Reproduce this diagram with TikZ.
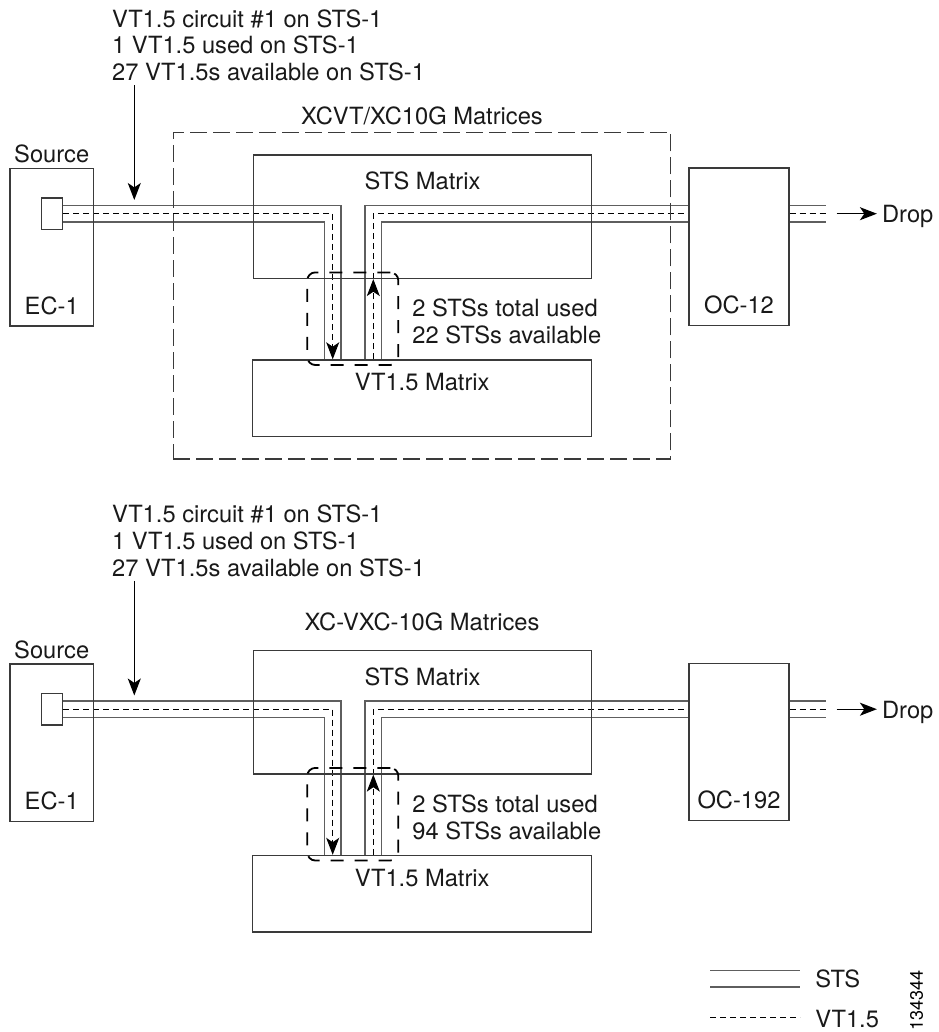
\documentclass[tikz,border=0pt]{standalone}
\usepackage{fontspec}
\setmainfont{TeX Gyre Heros}
\usetikzlibrary{positioning,arrows.meta,calc}
\pgfdeclarelayer{bg}
\pgfsetlayers{bg,main}
\definecolor{ln}{HTML}{3A3A3A}
\definecolor{ch}{HTML}{5E5E5E}
\tikzset{
  txt/.style={font=\fontsize{11.85}{13.35}\selectfont,inner sep=0pt,text=black!90},
  blk/.style={draw=ln,line width=0.7pt,inner sep=0pt},
  matbox/.style={draw=ln,line width=0.6pt,dash pattern=on 8.5pt off 3pt,inner sep=0pt},
  grp/.style={draw=black,line width=0.9pt,rounded corners=4pt,dash pattern=on 6.5pt off 5.5pt,inner sep=0pt,minimum width=45.5pt,minimum height=46.3pt},
  sts/.style={draw=ch,line width=0.75pt,double=white,double distance=7.45pt},
  vtl/.style={black,line width=0.5pt,dash pattern=on 3pt off 2pt},
  vtarr/.style={-{Stealth[length=8.5pt,width=6.5pt,inset=2.2pt]}},
  arr/.style={-{Stealth[length=8.5pt,width=6.5pt,inset=2.2pt]},line width=0.7pt,black},
}

\begin{document}
\begin{tikzpicture}[x=0.5pt,y=-0.5pt]
\useasboundingbox (0,0) rectangle (938,1032);
% the matrix group of the upper card
\node[matbox,minimum width=248.7pt,minimum height=163.3pt] (mtx1) at (422,295.7) {};
\node[txt,anchor=base] (ttl1) at ([yshift=3.5pt]mtx1.north) {XCVT/XC10G Matrices};
\node[txt,anchor=base] (ttl2) at (422,630.2) {XC-VXC-10G Matrices};
\foreach \i/\dy/\oc/\avail in {1/0/OC-12/22,2/495.5/OC-192/94}{
  \node[blk,minimum width=41.7pt,minimum height=78.8pt] (ec\i) at (51.7,{247.2+\dy}) {};
  \node[blk,minimum width=10.3pt,minimum height=15.8pt] (port\i) at (52,{213.7+\dy}) {};
  \node[blk,minimum width=169.2pt,minimum height=61.7pt] (sts\i) at (422.5,{216.7+\dy}) {};
  \node[blk,minimum width=169.5pt,minimum height=38.3pt] (vt\i) at (422.2,{398.3+\dy}) {};
  \node[blk,minimum width=50pt,minimum height=78.5pt] (oc\i) at (739,{246.7+\dy}) {};
  \node[grp] (grp\i) at (352.8,{318.7+\dy}) {};
  \node[txt,anchor=base] at ([yshift=2.4pt]ec\i.north) {Source};
  \node[txt,anchor=base] at ([yshift=6.3pt]ec\i.south) {EC-1};
  \node[txt,anchor=base] at ([yshift=-17.6pt]sts\i.north) {STS Matrix};
  \node[txt,anchor=base] at ([yshift=-15.75pt]vt\i.north) {VT1.5 Matrix};
  \node[txt,anchor=base] at ([yshift=6.3pt]oc\i.south) {\oc};
  \node[txt,align=left,anchor=north west] (note\i) at (111.7,{9+\dy}) {VT1.5 circuit \#1 on STS-1\\1 VT1.5 used on STS-1\\27 VT1.5s available on STS-1};
  \node[txt,align=left,anchor=west] (use\i) at (412,{321.7+\dy}) {2 STSs total used\\\avail{} STSs available};
  \node[txt,anchor=base west] (drop\i) at (881.7,{222.5+\dy}) {Drop};
  \coordinate (dn\i) at (332.7,{213.7+\dy});
  \coordinate (up\i) at (373.3,{213.7+\dy});
  \coordinate (out\i) at (825.7,{213.7+\dy});
  \coordinate (drA\i) at (836.7,{213.7+\dy});
  \coordinate (tip\i) at (134.3,{200+\dy});
  \begin{pgfonlayer}{bg}
    \draw[sts] (port\i.east) -- (dn\i) -- (dn\i |- vt\i.north);
    \draw[sts] (up\i |- vt\i.north) -- (up\i) -- (up\i -| oc\i.west);
    \draw[sts] (oc\i.east |- up\i) -- (out\i);
    \draw[vtl,vtarr] (port\i.east) -- (dn\i) -- (dn\i |- vt\i.north);
    \draw[vtl,vtarr] (up\i |- vt\i.north) -- (up\i |- sts\i.south);
    \draw[vtl] (up\i |- sts\i.south) -- (up\i) -- (up\i -| oc\i.west);
    \draw[vtl] (oc\i.east |- up\i) -- (out\i);
  \end{pgfonlayer}
  \draw[arr] ([yshift=-2pt]note\i.south -| tip\i) -- (tip\i);
  \draw[arr] (drA\i) -- ([xshift=-2.4pt]drA\i -| drop\i.west);
}
% legend
\coordinate (lgS) at (710,978.7);
\coordinate (lgV) at (710,1017.5);
\node[txt,anchor=west] (lsts) at (815,979) {STS};
\node[txt,anchor=west] (lvt) at (815,1019.5) {VT1.5};
\draw[sts] (lgS) -- ([xshift=-7.5pt]lgS -| lsts.west);
\draw[vtl] (lgV) -- ([xshift=-7.5pt]lgV -| lvt.west);
\node[font=\fontsize{9}{10}\selectfont,rotate=90,inner sep=0pt] (fig) at (916.7,1000.5) {134344};
\end{tikzpicture}
\end{document}
